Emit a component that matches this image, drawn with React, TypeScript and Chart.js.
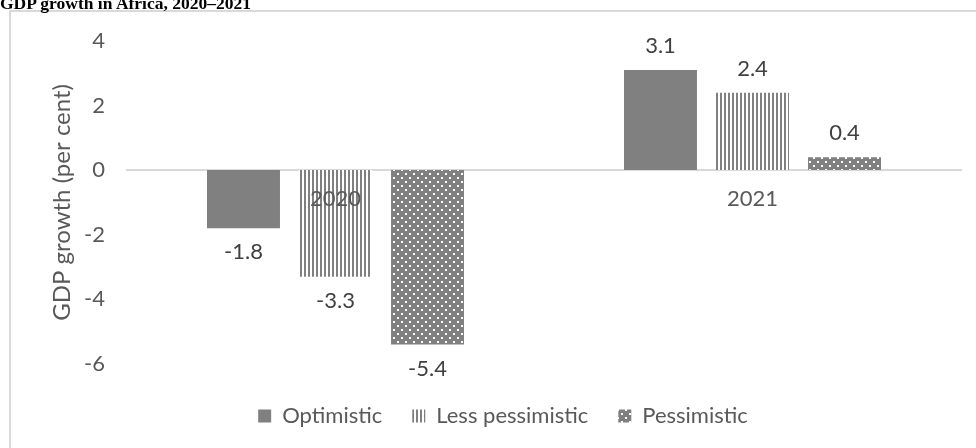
import { useEffect, useRef } from "react";
import { Chart, registerables } from "chart.js";

Chart.register(...registerables);

// Chart data
const years = ["2020", "2021"];
const seriesNames = ["Optimistic", "Less pessimistic", "Pessimistic"];
const optimistic = [-1.8, 3.1];
const lessPessimistic = [-3.3, 2.4];
const pessimistic = [-5.4, 0.4];
const yTicks = [-6, -4, -2, 0, 2, 4];

const FONT = "Lato, 'Open Sans', sans-serif";
const GREY = "#808080";

function makeTile(
  ctx: CanvasRenderingContext2D,
  w: number,
  h: number,
  paint: (g: CanvasRenderingContext2D) => void
): CanvasPattern {
  const c = document.createElement("canvas");
  c.width = w;
  c.height = h;
  const g = c.getContext("2d") as CanvasRenderingContext2D;
  paint(g);
  return ctx.createPattern(c, "repeat") as CanvasPattern;
}

// Value labels at the end of every bar
const valueLabels = {
  id: "valueLabels",
  afterDatasetsDraw(chart: any) {
    const ctx = chart.ctx as CanvasRenderingContext2D;
    ctx.save();
    ctx.font = `22px ${FONT}`;
    ctx.fillStyle = "#404040";
    ctx.textAlign = "center";
    ctx.textBaseline = "middle";
    chart.data.datasets.forEach((ds: any, di: number) => {
      const meta = chart.getDatasetMeta(di);
      meta.data.forEach((el: any, i: number) => {
        const v = ds.data[i] as number;
        const y = v >= 0 ? el.y - 24 : el.y + 24;
        ctx.fillText(v.toFixed(1), el.x, y);
      });
    });
    ctx.restore();
  },
};

export default function App() {
  const ref = useRef<HTMLCanvasElement | null>(null);

  useEffect(() => {
    const canvas = ref.current;
    if (!canvas) return;
    const ctx = canvas.getContext("2d") as CanvasRenderingContext2D;

    const solid = GREY;
    const vLines = makeTile(ctx, 4, 4, (g) => {
      g.fillStyle = "#ffffff";
      g.fillRect(0, 0, 4, 4);
      g.fillStyle = GREY;
      g.fillRect(0, 0, 2, 4);
    });
    const dots = makeTile(ctx, 8, 8, (g) => {
      g.fillStyle = GREY;
      g.fillRect(0, 0, 8, 8);
      g.fillStyle = "#ffffff";
      g.fillRect(1, 1, 2, 2);
      g.fillRect(5, 5, 2, 2);
    });

    const fills = [solid, vLines, dots];
    const values = [optimistic, lessPessimistic, pessimistic];

    const chart = new Chart(canvas, {
      type: "bar",
      data: {
        labels: years,
        datasets: seriesNames.map((name, i) => ({
          label: name,
          data: values[i],
          backgroundColor: fills[i] as any,
          borderWidth: 0,
          categoryPercentage: 0.662,
          barPercentage: 0.793,
        })),
      },
      options: {
        animation: false,
        responsive: false,
        layout: { padding: { top: 41, right: 45, left: 45, bottom: 0 } },
        scales: {
          x: {
            position: { y: 0 } as any,
            offset: true,
            grid: { display: false, drawTicks: false },
            border: { display: true, color: "#d9d9d9", width: 2 },
            ticks: {
              z: 1,
              color: "#595959",
              padding: 16,
              font: { family: FONT, size: 22 },
            },
          },
          y: {
            min: yTicks[0],
            max: yTicks[yTicks.length - 1],
            afterBuildTicks: (axis: any) => {
              axis.ticks = yTicks.map((v) => ({ value: v }));
            },
            afterFit: (axis: any) => {
              axis.width = 82;
            },
            grid: { display: false, drawTicks: false },
            border: { display: false },
            ticks: {
              color: "#595959",
              padding: 22,
              font: { family: FONT, size: 22 },
            },
            title: {
              display: true,
              text: "GDP growth (per cent)",
              color: "#595959",
              padding: { top: 2.6, bottom: 0 },
              font: { family: FONT, size: 24 },
            },
          },
        },
        plugins: {
          tooltip: { enabled: false },
          legend: {
            position: "bottom",
            title: {
              display: true,
              text: "",
              padding: { top: 0, bottom: 10 },
              font: { size: 1 },
            },
            labels: {
              boxWidth: 13,
              boxHeight: 13,
              padding: 30,
              color: "#595959",
              font: { family: FONT, size: 22 },
            },
          },
        },
      },
      plugins: [valueLabels],
    });

    return () => chart.destroy();
  }, []);

  return (
    <div
      style={{
        position: "fixed",
        left: 0,
        top: 0,
        width: 976,
        height: 448,
        overflow: "hidden",
        background: "#ffffff",
      }}
    >
      <div
        style={{
          position: "absolute",
          left: 9,
          top: 10,
          width: 1000,
          height: 500,
          border: "2px solid #d9d9d9",
          boxSizing: "border-box",
        }}
      />
      <canvas
        ref={ref}
        width={1006}
        height={437}
        style={{ position: "absolute", left: 0, top: 0, width: 1006, height: 437 }}
      />
      <div
        style={{
          position: "absolute",
          left: 0,
          top: -6,
          fontFamily: "'Liberation Serif', 'Times New Roman', serif",
          fontWeight: "bold",
          fontSize: 17.5,
          lineHeight: "18px",
          color: "#000000",
          whiteSpace: "nowrap",
        }}
      >
        GDP growth in Africa, 2020–2021
      </div>
    </div>
  );
}
